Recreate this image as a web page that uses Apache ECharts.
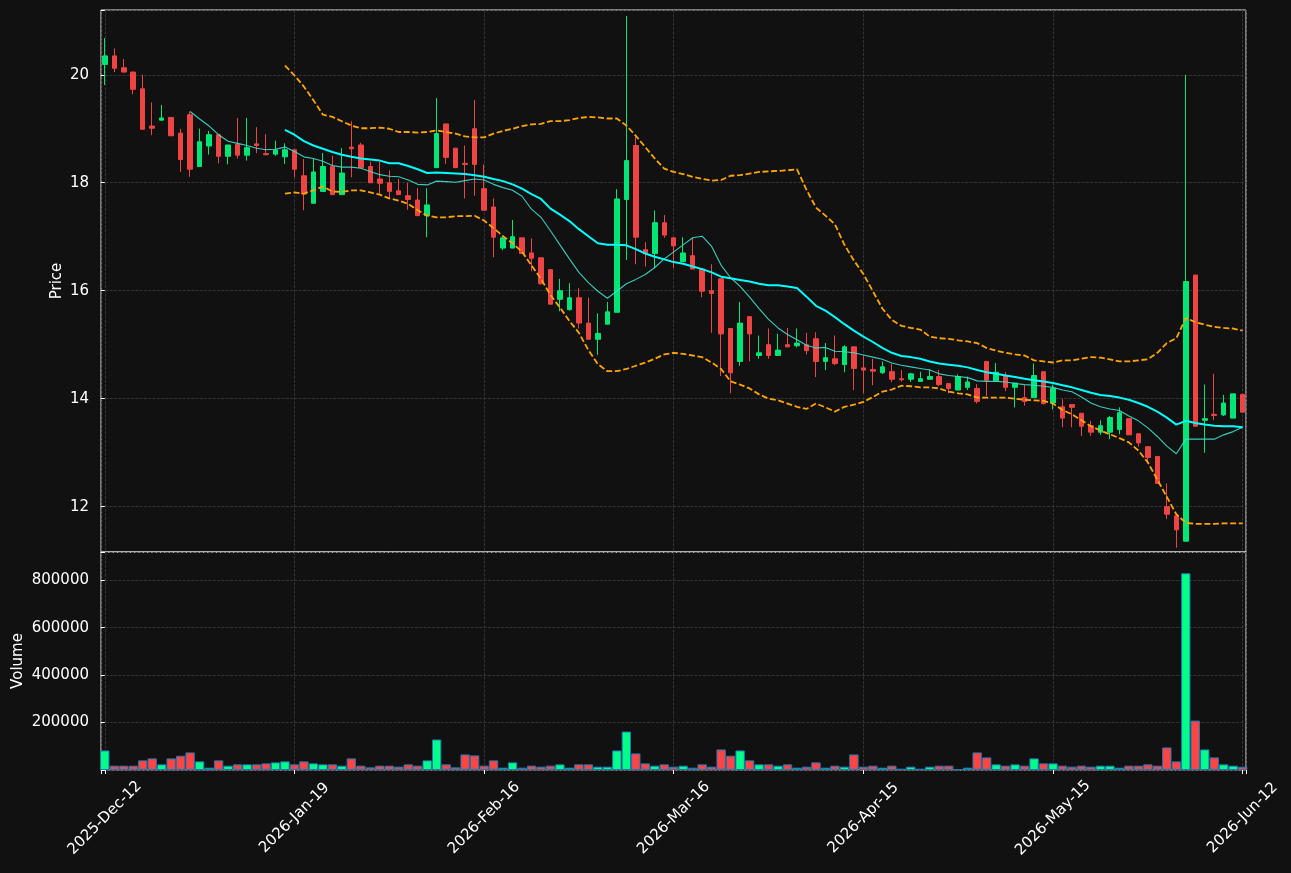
<!DOCTYPE html>
<html>
<head>
<meta charset="utf-8">
<title>Price / Volume</title>
<script src="https://cdn.jsdelivr.net/npm/echarts@6/dist/echarts.min.js"></script>
<style>
  html, body { margin: 0; padding: 0; background: #111111; }
  #chart { width: 1291px; height: 873px; }
</style>
</head>
<body>
<div id="chart"></div>
<script>
// tick labels, one every 20 trading days
const tickLabels = ['2025-Dec-12', '2026-Jan-19', '2026-Feb-16', '2026-Mar-16', '2026-Apr-15', '2026-May-15', '2026-Jun-12']

// one row per trading day: [open, high, low, close]
const ohlc = [
  [20.19, 20.68, 19.81, 20.35], [20.35, 20.49, 20.05, 20.12], [20.13, 20.29, 20.04, 20.05], [20.05, 20.06, 19.64, 19.73],
  [19.74, 20.00, 18.99, 18.99], [19.05, 19.49, 18.88, 19.01], [19.16, 19.44, 19.15, 19.20], [19.21, 19.21, 18.87, 18.87],
  [18.92, 19.00, 18.20, 18.43], [19.26, 19.32, 18.11, 18.25], [18.30, 19.00, 18.30, 18.76], [18.68, 18.96, 18.52, 18.89],
  [18.89, 18.89, 18.36, 18.49], [18.49, 18.70, 18.34, 18.70], [18.71, 19.20, 18.45, 18.51], [18.51, 19.20, 18.41, 18.65],
  [18.72, 19.03, 18.55, 18.69], [18.54, 18.90, 18.51, 18.52], [18.53, 18.78, 18.50, 18.61], [18.48, 18.73, 18.35, 18.61],
  [18.61, 18.61, 18.10, 18.25], [18.13, 18.44, 17.49, 17.79], [17.62, 18.44, 17.62, 18.20], [17.84, 18.55, 17.84, 18.30],
  [18.30, 18.50, 17.78, 17.78], [17.78, 18.64, 17.78, 18.18], [18.66, 19.14, 18.10, 18.63], [18.70, 18.74, 18.28, 18.28],
  [18.30, 18.39, 18.00, 18.00], [18.07, 18.39, 17.78, 17.99], [18.00, 18.23, 17.71, 17.84], [17.85, 18.07, 17.78, 17.78],
  [17.76, 18.00, 17.50, 17.69], [17.68, 17.90, 17.39, 17.39], [17.39, 17.90, 16.99, 17.59], [18.28, 19.57, 18.28, 18.91],
  [19.09, 19.09, 18.35, 18.47], [18.64, 18.64, 18.27, 18.28], [18.36, 18.69, 17.71, 18.34], [19.00, 19.53, 17.76, 18.34],
  [17.89, 18.34, 17.49, 17.49], [17.55, 17.71, 16.62, 16.99], [16.79, 16.98, 16.75, 16.98], [16.79, 17.31, 16.79, 17.00],
  [16.98, 16.98, 16.69, 16.69], [16.70, 16.97, 16.36, 16.60], [16.61, 16.61, 16.11, 16.13], [16.39, 16.39, 15.75, 15.75],
  [15.84, 16.22, 15.62, 16.00], [15.65, 16.14, 15.63, 15.87], [15.87, 16.05, 15.30, 15.40], [15.40, 15.87, 15.10, 15.10],
  [15.10, 15.58, 14.81, 15.21], [15.38, 15.79, 15.38, 15.61], [15.60, 17.88, 15.60, 17.70], [17.69, 21.09, 16.57, 18.41],
  [18.69, 18.85, 16.49, 16.99], [16.76, 16.90, 16.45, 16.69], [16.69, 17.49, 16.42, 17.26], [17.26, 17.40, 16.98, 17.03],
  [16.98, 16.98, 16.42, 16.83], [16.54, 16.99, 16.54, 16.70], [16.65, 16.98, 16.40, 16.40], [16.40, 16.40, 15.88, 15.99],
  [16.00, 16.49, 15.22, 15.95], [16.22, 16.22, 14.42, 15.20], [15.30, 15.30, 14.10, 14.48], [14.69, 15.79, 14.61, 15.40],
  [15.52, 15.52, 14.69, 15.20], [14.80, 15.17, 14.74, 14.85], [15.00, 15.30, 14.74, 14.80], [14.80, 15.20, 14.80, 14.90],
  [15.00, 15.31, 14.95, 14.96], [14.98, 15.30, 14.95, 15.03], [15.00, 15.22, 14.82, 14.89], [15.11, 15.23, 14.40, 14.69],
  [14.69, 15.03, 14.53, 14.76], [14.74, 15.17, 14.62, 14.65], [14.63, 14.99, 14.49, 14.96], [14.96, 14.96, 14.16, 14.56],
  [14.57, 14.80, 14.10, 14.53], [14.54, 14.74, 14.25, 14.51], [14.48, 14.69, 14.46, 14.59], [14.50, 14.65, 14.31, 14.36],
  [14.37, 14.53, 14.32, 14.35], [14.36, 14.48, 14.31, 14.46], [14.32, 14.50, 14.32, 14.37], [14.36, 14.55, 14.36, 14.41],
  [14.41, 14.53, 14.23, 14.26], [14.28, 14.28, 14.10, 14.19], [14.16, 14.45, 14.16, 14.41], [14.21, 14.41, 14.16, 14.31],
  [14.19, 14.27, 13.91, 13.95], [14.69, 14.69, 14.05, 14.34], [14.33, 14.66, 14.33, 14.49], [14.42, 14.49, 14.14, 14.21],
  [14.21, 14.29, 13.84, 14.29], [14.02, 14.25, 13.87, 13.95], [14.02, 14.65, 14.02, 14.43], [14.50, 14.50, 13.89, 13.91],
  [13.92, 14.26, 13.80, 14.19], [13.85, 13.99, 13.47, 13.64], [13.89, 13.89, 13.47, 13.84], [13.73, 13.73, 13.31, 13.49],
  [13.50, 13.59, 13.31, 13.38], [13.38, 13.60, 13.33, 13.50], [13.38, 13.68, 13.25, 13.65], [13.43, 13.84, 13.34, 13.74],
  [13.63, 13.63, 13.33, 13.33], [13.35, 13.35, 13.11, 13.18], [13.11, 13.11, 12.80, 12.91], [12.93, 12.93, 12.43, 12.43],
  [12.00, 12.43, 11.77, 11.86], [11.83, 11.83, 11.24, 11.57], [11.36, 20.00, 11.36, 16.17], [16.29, 16.29, 13.49, 13.49],
  [13.60, 14.26, 13.00, 13.63], [13.71, 14.46, 13.60, 13.69], [13.70, 14.07, 13.68, 13.92], [13.64, 14.09, 13.64, 14.09],
  [14.08, 14.08, 13.75, 13.75]
]

const volume = [
  82500, 18200, 18200, 18200, 40600, 49000, 23800, 49000, 60100, 74100,
  36400, 9800, 40600, 18200, 23800, 23800, 23800, 28000, 32200, 36400,
  23800, 36400, 28000, 23800, 23800, 18200, 49000, 18200, 11200, 18200,
  18200, 14000, 23800, 18200, 40600, 128700, 23800, 11200, 65700, 61500,
  18200, 40600, 9800, 32200, 9800, 18200, 14000, 18200, 23800, 9800,
  23800, 23800, 14000, 14000, 82500, 162200, 69900, 28000, 18200, 23800,
  14000, 18200, 9800, 23800, 14000, 86700, 60100, 82500, 40600, 23800,
  23800, 18200, 23800, 9800, 14000, 32200, 9800, 18200, 14000, 65700,
  14000, 18200, 9800, 18200, 5600, 14000, 5600, 14000, 18200, 18200,
  4200, 9800, 74100, 53100, 23800, 18200, 23800, 18200, 49000, 28000,
  28000, 18200, 14000, 18200, 14000, 18200, 18200, 9800, 18200, 18200,
  23800, 18200, 95100, 36400, 829400, 208400, 86700, 53100, 23800, 18200,
  14000
]

// 10-day average, from day 9
const ma10Start = 9
const ma10 = [
  19.32, 19.18, 19.05, 18.89, 18.77, 18.73, 18.69, 18.64, 18.61, 18.62,
  18.66, 18.58, 18.48, 18.45, 18.40, 18.32, 18.29, 18.29, 18.27, 18.21,
  18.15, 18.12, 18.11, 18.05, 17.97, 17.96, 18.03, 18.02, 18.01, 18.04,
  18.07, 18.05, 17.97, 17.91, 17.86, 17.75, 17.51, 17.36, 17.11, 16.85,
  16.59, 16.34, 16.15, 15.99, 15.86, 15.99, 16.13, 16.21, 16.30, 16.43,
  16.59, 16.72, 16.85, 16.98, 17.01, 16.82, 16.47, 16.24, 16.08, 15.88,
  15.67, 15.47, 15.31, 15.19, 15.09, 14.99, 14.94, 14.95, 14.88, 14.87,
  14.85, 14.81, 14.77, 14.73, 14.66, 14.62, 14.59, 14.56, 14.53, 14.46,
  14.43, 14.41, 14.39, 14.33, 14.32, 14.32, 14.31, 14.28, 14.26, 14.25,
  14.23, 14.21, 14.16, 14.13, 14.03, 13.92, 13.85, 13.81, 13.78, 13.68,
  13.59, 13.46, 13.30, 13.12, 12.98, 13.25, 13.25, 13.25, 13.25, 13.33,
  13.39, 13.47
]

// 20-day average and bands, from day 19
const ma20Start = 19
const ma20 = [
  18.98, 18.89, 18.77, 18.69, 18.63, 18.57, 18.52, 18.48, 18.45, 18.43,
  18.41, 18.36, 18.36, 18.31, 18.25, 18.18, 18.19, 18.18, 18.17, 18.16,
  18.14, 18.11, 18.07, 18.03, 17.97, 17.89, 17.79, 17.70, 17.52, 17.41,
  17.29, 17.14, 17.01, 16.88, 16.85, 16.85, 16.84, 16.77, 16.69, 16.63,
  16.58, 16.53, 16.50, 16.45, 16.40, 16.34, 16.26, 16.23, 16.20, 16.17,
  16.13, 16.10, 16.10, 16.08, 16.05, 15.89, 15.72, 15.63, 15.51, 15.38,
  15.26, 15.15, 15.05, 14.94, 14.85, 14.79, 14.77, 14.74, 14.69, 14.65,
  14.63, 14.61, 14.58, 14.53, 14.49, 14.46, 14.43, 14.40, 14.37, 14.34,
  14.32, 14.29, 14.25, 14.21, 14.16, 14.11, 14.07, 14.05, 14.02, 13.98,
  13.92, 13.85, 13.76, 13.65, 13.52, 13.59, 13.55, 13.52, 13.50, 13.49,
  13.49, 13.47
]
const upperBand = [
  20.17, 19.99, 19.78, 19.53, 19.26, 19.22, 19.14, 19.06, 19.01, 19.01,
  19.02, 19.00, 18.94, 18.94, 18.93, 18.94, 18.97, 18.94, 18.91, 18.86,
  18.84, 18.84, 18.91, 18.96, 19.00, 19.05, 19.08, 19.09, 19.14, 19.14,
  19.16, 19.20, 19.22, 19.21, 19.19, 19.19, 19.06, 18.87, 18.66, 18.45,
  18.26, 18.20, 18.16, 18.11, 18.07, 18.04, 18.05, 18.13, 18.14, 18.17,
  18.20, 18.21, 18.22, 18.23, 18.25, 17.87, 17.54, 17.39, 17.23, 16.85,
  16.56, 16.31, 15.99, 15.67, 15.46, 15.35, 15.31, 15.28, 15.15, 15.12,
  15.11, 15.08, 15.06, 15.03, 14.94, 14.89, 14.85, 14.82, 14.80, 14.71,
  14.69, 14.67, 14.71, 14.71, 14.74, 14.77, 14.76, 14.73, 14.69, 14.69,
  14.71, 14.73, 14.85, 15.03, 15.12, 15.49, 15.42, 15.37, 15.33, 15.31,
  15.30, 15.26
]
const lowerBand = [
  17.80, 17.82, 17.80, 17.86, 17.93, 17.84, 17.83, 17.86, 17.86, 17.82,
  17.78, 17.71, 17.67, 17.61, 17.49, 17.39, 17.36, 17.36, 17.38, 17.38,
  17.39, 17.30, 17.16, 17.01, 16.88, 16.72, 16.47, 16.22, 15.92, 15.69,
  15.44, 15.22, 14.90, 14.64, 14.51, 14.51, 14.55, 14.61, 14.67, 14.74,
  14.82, 14.85, 14.83, 14.80, 14.77, 14.67, 14.55, 14.32, 14.26, 14.19,
  14.08, 14.00, 13.97, 13.91, 13.85, 13.81, 13.91, 13.84, 13.76, 13.85,
  13.89, 13.94, 14.03, 14.13, 14.17, 14.24, 14.23, 14.21, 14.21, 14.19,
  14.13, 14.10, 14.08, 14.02, 14.02, 14.02, 14.02, 14.00, 13.98, 13.97,
  13.96, 13.91, 13.79, 13.71, 13.60, 13.49, 13.41, 13.34, 13.27, 13.19,
  13.04, 12.82, 12.50, 12.18, 11.86, 11.70, 11.68, 11.68, 11.68, 11.69,
  11.69, 11.69
]

const upColor = '#00e676'
const downColor = '#ef4444'
const volUp = '#00ff88'
const volDown = '#ff4444'
const font = 'DejaVu Sans'

const withIndex = (arr, start) => arr.map((v, k) => [start + k, v])

const candleData = ohlc.map((d, i) => [i, d[0], d[3], d[2], d[1]]) // x, open, close, low, high
const volumeData = volume.map((v, i) => ({
  value: [i, v],
  itemStyle: { color: ohlc[i][3] >= ohlc[i][0] ? volUp : volDown }
}))

const gridLine = { show: true, lineStyle: { color: '#3c3c3c', type: [3, 1.3], width: 0.8 } }
const labelStyle = { color: '#ffffff', fontSize: 15, fontFamily: font }

const myChart = echarts.init(document.getElementById('chart'))
const option = {
  backgroundColor: '#111111',
  animation: false,
  grid: [
    { left: 101, top: 10, width: 1145, height: 542, show: true, borderColor: '#e6e6e6', borderWidth: 1 },
    { left: 101, top: 552, width: 1145, height: 218, show: true, borderColor: '#e6e6e6', borderWidth: 1 }
  ],
  xAxis: [
    {
      type: 'value', gridIndex: 0, min: -0.4, max: 120.35, splitNumber: 6,
      axisLine: { show: false }, axisTick: { show: false }, axisLabel: { show: false },
      splitLine: gridLine
    },
    {
      type: 'value', gridIndex: 1, min: -0.4, max: 120.35, splitNumber: 6,
      axisLine: { show: false },
      axisTick: { show: true, length: 4, lineStyle: { color: '#ffffff' } },
      axisLabel: {
        ...labelStyle,
        rotate: 45, align: 'center', verticalAlign: 'middle', margin: 48,
        formatter: v => (Math.abs(v % 20) < 1e-6 ? tickLabels[Math.round(v / 20)] : '')
      },
      splitLine: gridLine
    }
  ],
  yAxis: [
    {
      type: 'value', gridIndex: 0, min: 11.16, max: 21.2, splitNumber: 5,
      name: 'Price', nameLocation: 'middle', nameGap: 36, nameRotate: 90, nameMoveOverlap: false,
      nameTextStyle: labelStyle,
      axisLine: { show: false },
      axisTick: { show: true, length: 4, lineStyle: { color: '#ffffff' } },
      axisLabel: {
        ...labelStyle, margin: 12,
        formatter: v => (Math.abs(v % 2) < 1e-6 ? String(v) : '')
      },
      splitLine: gridLine
    },
    {
      type: 'value', gridIndex: 1, min: 0, max: 919000, splitNumber: 5,
      name: 'Volume', nameLocation: 'middle', nameGap: 75, nameRotate: 90, nameMoveOverlap: false,
      nameTextStyle: labelStyle,
      axisLine: { show: false },
      axisTick: { show: true, length: 4, lineStyle: { color: '#ffffff' } },
      axisLabel: {
        ...labelStyle, margin: 12,
        formatter: v => (v > 0 && v % 200000 === 0 ? String(v) : '')
      },
      splitLine: gridLine
    }
  ],
  series: [
    {
      name: 'Price', type: 'candlestick', xAxisIndex: 0, yAxisIndex: 0,
      barWidth: 5,
      itemStyle: { color: upColor, color0: downColor, borderColor: upColor, borderColor0: downColor, borderWidth: 1 },
      data: candleData,
      z: 2
    },
    {
      name: 'MA10', type: 'line', xAxisIndex: 0, yAxisIndex: 0, symbol: 'none',
      lineStyle: { color: '#40e0d0', width: 1.1, opacity: 0.9 },
      data: withIndex(ma10, ma10Start), z: 3
    },
    {
      name: 'MA20', type: 'line', xAxisIndex: 0, yAxisIndex: 0, symbol: 'none',
      lineStyle: { color: '#00ffff', width: 2 },
      data: withIndex(ma20, ma20Start), z: 3
    },
    {
      name: 'Upper', type: 'line', xAxisIndex: 0, yAxisIndex: 0, symbol: 'none',
      lineStyle: { color: '#ffa500', width: 1.8, type: [6, 2.6] },
      data: withIndex(upperBand, ma20Start), z: 3
    },
    {
      name: 'Lower', type: 'line', xAxisIndex: 0, yAxisIndex: 0, symbol: 'none',
      lineStyle: { color: '#ffa500', width: 1.8, type: [6, 2.6] },
      data: withIndex(lowerBand, ma20Start), z: 3
    },
    {
      name: 'Volume', type: 'bar', xAxisIndex: 1, yAxisIndex: 1,
      barWidth: 9.4,
      itemStyle: { borderColor: '#1f77b4', borderWidth: 1 },
      data: volumeData
    }
  ]
}
option && myChart.setOption(option)
window.addEventListener('resize', () => {
  myChart.resize()
})
</script>
</body>
</html>
